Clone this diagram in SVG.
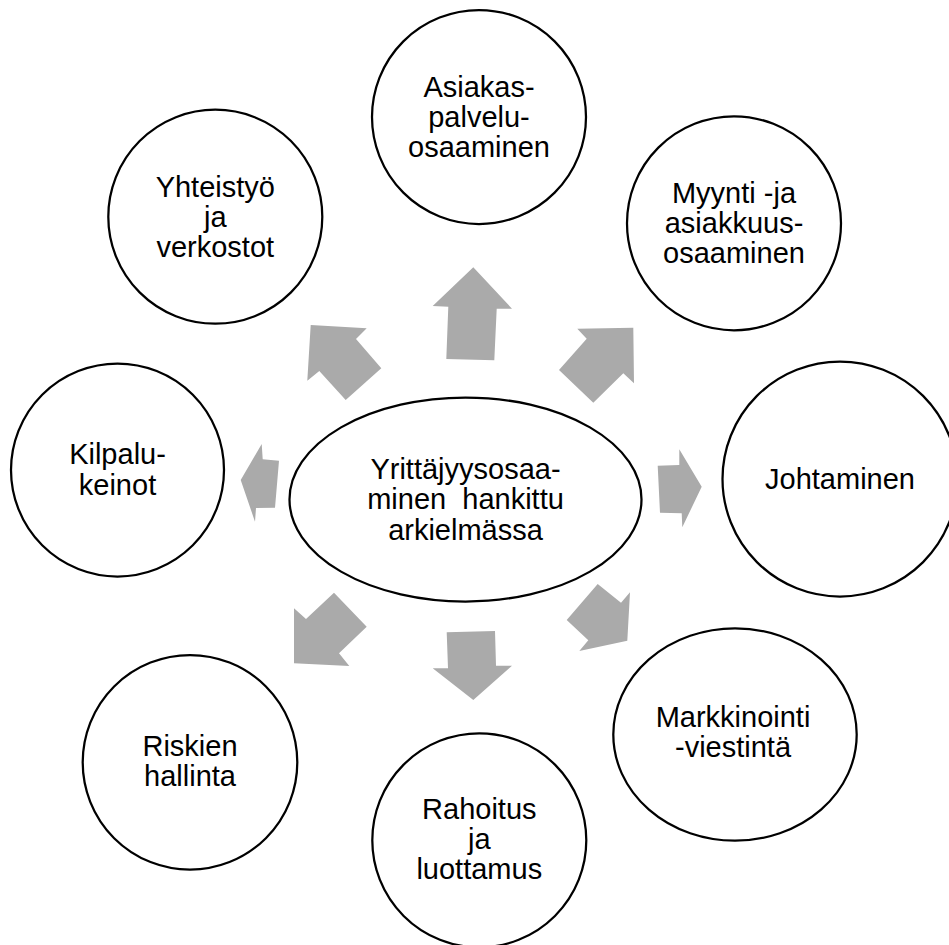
<svg xmlns="http://www.w3.org/2000/svg" width="949" height="945" viewBox="0 0 949 945">
<style>
.n{fill:#ffffff;stroke:#000000;stroke-width:2.25}
.t{font-family:"Liberation Sans",Arial,sans-serif;font-size:29px;fill:#000000;text-anchor:middle}
.a{fill:#aaaaaa;stroke:none}
</style>
<rect width="949" height="945" fill="#ffffff"/>
<g id="connectors">
<polygon class="a" points="473.3,267.3 512,308.7 496.7,308.7 494.3,360.3 446.3,359 448.3,306.7 432.7,306"/>
<polygon class="a" points="310.7,325 366.7,328.3 356,339 381.3,368.3 345.7,400 319.3,371 307.3,380.7"/>
<polygon class="a" points="633.3,327.7 634,383.3 623.3,373.3 593.3,402.7 559,370 586.7,338.7 577.3,328.7"/>
<polygon class="a" points="657.7,465.7 679.3,465 679.3,449.3 701.7,486.7 682.3,527.3 681.7,513.3 660,512.7"/>
<polygon class="a" points="240.7,480 261.7,444 262.7,459.3 279,460.7 275,507.7 256,508 255,521.7"/>
<polygon class="a" points="597.7,584 621,602.7 630,592.3 627.3,640.7 579.3,651 588.3,640.3 566.7,620"/>
<polygon class="a" points="446.7,632.3 495,631 496,665.7 512,665.7 473.3,700 432.7,668.3 448,668.3"/>
<polygon class="a" points="334,592.7 366.7,626.7 339,653.3 349.3,666 294,663.3 294,608.3 306,619"/>
</g>
<g id="center">
<ellipse class="n" cx="465.5" cy="499.5" rx="176" ry="102"/>
<text class="t" x="465.5" y="478.5">Yrittäjyysosaa-</text>
<text class="t" x="465.5" y="509" xml:space="preserve">minen  hankittu</text>
<text class="t" x="465.5" y="539.5">arkielmässa</text>
</g>
<g id="asiakaspalvelu">
<circle class="n" cx="479" cy="117" r="107"/>
<text class="t" x="479" y="96.5">Asiakas-</text>
<text class="t" x="479" y="127">palvelu-</text>
<text class="t" x="479" y="157">osaaminen</text>
</g>
<g id="myynti">
<circle class="n" cx="734" cy="223.3" r="107"/>
<text class="t" x="734" y="203">Myynti -ja</text>
<text class="t" x="734" y="233">asiakkuus-</text>
<text class="t" x="734" y="263">osaaminen</text>
</g>
<g id="johtaminen">
<circle class="n" cx="840" cy="479" r="117.5"/>
<text class="t" x="840" y="488.5">Johtaminen</text>
</g>
<g id="markkinointi">
<ellipse class="n" cx="735" cy="734.5" rx="121.7" ry="106.2"/>
<text class="t" x="733" y="727.3">Markkinointi</text>
<text class="t" x="733" y="757.3">-viestintä</text>
</g>
<g id="rahoitus">
<circle class="n" cx="479.3" cy="840.3" r="107"/>
<text class="t" x="479.3" y="819">Rahoitus</text>
<text class="t" x="479.3" y="849.3">ja</text>
<text class="t" x="479.3" y="879.3">luottamus</text>
</g>
<g id="riskien">
<circle class="n" cx="190" cy="762.3" r="107.3"/>
<text class="t" x="190" y="756">Riskien</text>
<text class="t" x="190" y="786">hallinta</text>
</g>
<g id="kilpalu">
<circle class="n" cx="117.5" cy="470" r="106.5"/>
<text class="t" x="117.5" y="464">Kilpalu-</text>
<text class="t" x="117.5" y="495">keinot</text>
</g>
<g id="yhteistyo">
<circle class="n" cx="215.3" cy="216.7" r="107"/>
<text class="t" x="215.3" y="196.7">Yhteistyö</text>
<text class="t" x="215.3" y="226.7">ja</text>
<text class="t" x="215.3" y="256.7">verkostot</text>
</g>
</svg>
